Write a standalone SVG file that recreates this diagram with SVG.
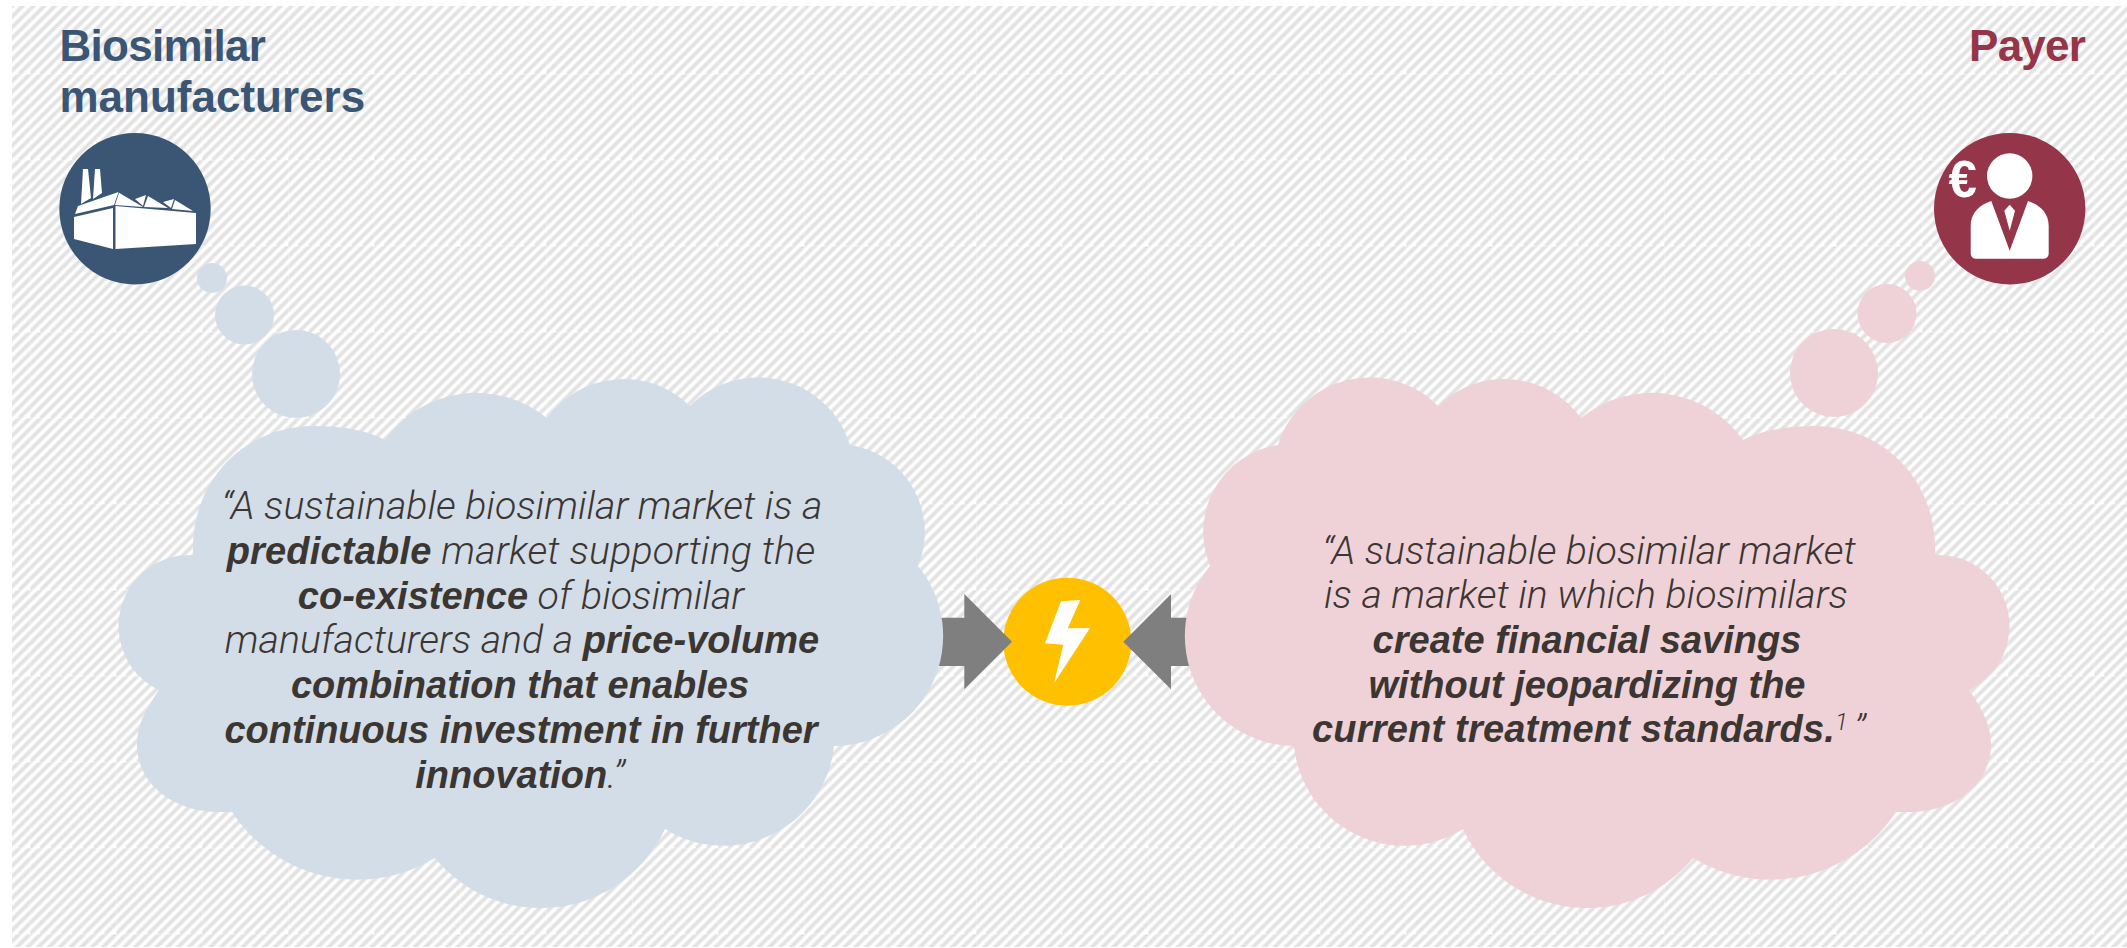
<svg xmlns="http://www.w3.org/2000/svg" xmlns:xlink="http://www.w3.org/1999/xlink" width="2127" height="948" viewBox="0 0 2127 948">
<style>
.title{font-family:"Liberation Sans",Arial,sans-serif;font-weight:700;font-size:44px}
.q{font-size:38px;fill:#3b3632;text-anchor:middle}
.l{font-family:Roboto,"Liberation Sans",sans-serif;font-weight:300;font-style:italic;font-size:39.3px}
.b{font-family:"Liberation Sans",Arial,sans-serif;font-weight:700;font-style:italic;font-size:38px}
.s{font-family:Roboto,"Liberation Sans",sans-serif;font-weight:300;font-style:italic;font-size:24px}
.blue{fill:#d3dde8}.pink{fill:#efd2d8}
.ico{fill:#fff}
.arrow{fill:#7f7f7f}
</style>
<defs>
<pattern id="hatch" patternUnits="userSpaceOnUse" x="30" y="74" width="86" height="86">
<rect width="86" height="86" fill="#fff"/>
<g stroke="#f2f2f2" stroke-width="5.2"><path d="M-86 86L86 -86M-75.25 86L96.75 -86M-64.5 86L107.5 -86M-53.75 86L118.25 -86M-43 86L129 -86M-32.25 86L139.75 -86M-21.5 86L150.5 -86M-10.75 86L161.25 -86M0 86L172 -86M10.75 86L182.75 -86M21.5 86L193.5 -86M32.25 86L204.25 -86M43 86L215 -86M53.75 86L225.75 -86M64.5 86L236.5 -86M75.25 86L247.25 -86"/></g>
<g stroke="#e2e2e2" stroke-width="2.8"><path d="M-86 86L86 -86M-75.25 86L96.75 -86M-64.5 86L107.5 -86M-53.75 86L118.25 -86M-43 86L129 -86M-32.25 86L139.75 -86M-21.5 86L150.5 -86M-10.75 86L161.25 -86M0 86L172 -86M10.75 86L182.75 -86M21.5 86L193.5 -86M32.25 86L204.25 -86M43 86L215 -86M53.75 86L225.75 -86M64.5 86L236.5 -86M75.25 86L247.25 -86"/></g>
<path d="M0.5 0V86M0 0.5H86" stroke="#fff" stroke-opacity=".25" fill="none"/>
</pattern>
<path id="cloud" d="M193 555C190 480 245 426 314 426C345 426 368 431 385 440A112 112 0 0 1 547 418A95 95 0 0 1 690 406A96 96 0 0 1 850 445A88 88 0 0 1 918 566A110 110 0 0 1 834 746A111 111 0 0 1 665 829A137 137 0 0 1 435 858A150 150 0 0 1 232 812L218 812C175 812 137 785 137 745C137 725 145 710 159 690A71 71 0 0 1 193 555Z"/>
</defs>
<rect id="background" x="12" y="6" width="2115" height="941" fill="url(#hatch)"/>

<g id="conflict">
<circle cx="1067.3" cy="641.7" r="64" fill="#ffc000"/>
<polygon class="ico" points="1061,601.3 1080.3,600 1067.7,628.3 1090,628 1054,683.3 1063.3,644.7 1045,643.3"/>
</g>

<g id="connectors">
<polygon class="arrow" points="915,617.7 964.3,617.7 964.3,594 1012,641.7 964.3,689.3 964.3,666 915,666"/>
<polygon class="arrow" points="1215,617.7 1171,617.7 1171,594 1123.3,641.7 1171,689.3 1171,666 1215,666"/>
</g>

<g id="biosimilar-manufacturers">
<text class="title" x="59.5" y="61" fill="#3a5674" letter-spacing="-0.7">Biosimilar</text>
<text class="title" x="59.5" y="111.5" fill="#3a5674">manufacturers</text>
<circle cx="135" cy="208.7" r="75.7" fill="#3a5674"/>
<g class="ico">
<polygon points="115.5,206 196,213 196,244 115.5,249"/>
<polygon points="74,217 113,208 113,249 74,239"/>
<polygon points="75,214 78,206 118.5,192 114,205"/>
<polygon points="83,169 88,169 91,198 81,204"/>
<polygon points="95,169 100,169 102,193 93,199"/>
<polygon points="119,192.7 143,207 115,205"/>
<polygon points="135,199 146,195 143,206"/>
<polygon points="148,196 168,208 144,207"/>
<polygon points="163,202 174,199 171,208"/>
<polygon points="175,200 193,211 172,209"/>
</g>
<g class="blue"><circle cx="212" cy="278" r="15"/><circle cx="244.5" cy="315" r="29.5"/><circle cx="296" cy="374" r="44"/></g>
<use href="#cloud" class="blue"/>
<text class="q" y="519"><tspan class="l" x="522">“A sustainable biosimilar market is a</tspan></text>
<text class="q" y="564" letter-spacing="0.2"><tspan class="b" x="521">predictable</tspan><tspan class="l"> market supporting the</tspan></text>
<text class="q" y="608.5"><tspan class="b" x="521">co-existence</tspan><tspan class="l"> of biosimilar</tspan></text>
<text class="q" y="653"><tspan class="l" x="522">manufacturers and a </tspan><tspan class="b">price-volume</tspan></text>
<text class="q" y="698"><tspan class="b" x="520">combination that enables</tspan></text>
<text class="q" y="743"><tspan class="b" x="521">continuous investment in further</tspan></text>
<text class="q" y="787.5"><tspan class="b" x="520">innovation</tspan><tspan class="l">.”</tspan></text>
</g>

<g id="payer">
<text class="title" x="2085" y="61" text-anchor="end" fill="#943549" letter-spacing="-0.8">Payer</text>
<circle cx="2009.7" cy="208.7" r="75.7" fill="#943549"/>
<g class="ico">
<circle cx="2009.7" cy="176" r="22.7"/>
<path d="M1991.3 201L2009.7 250.7L2028 201C2040 205 2048.7 213 2048.7 226V253Q2048.7 258.7 2043 258.7H1976.4Q1970.7 258.7 1970.7 253V226C1970.7 213 1979 205 1991.3 201Z"/>
<polygon points="2009.7,204.7 2015,210.7 2009.7,230.7 2004.3,210.7" fill="#fff"/>
<text x="1948.5" y="197" font-family="Liberation Sans,Arial,sans-serif" font-weight="700" font-size="51" fill="#fff">€</text>
</g>
<g class="pink"><circle cx="1920" cy="276" r="15"/><circle cx="1887" cy="313.5" r="29.5"/><circle cx="1834" cy="373" r="44"/></g>
<use href="#cloud" class="pink" transform="matrix(-1 0 0 1 2128 0)"/>
<text class="q" y="563.5"><tspan class="l" x="1589">“A sustainable biosimilar market</tspan></text>
<text class="q" y="608"><tspan class="l" x="1586">is a market in which biosimilars</tspan></text>
<text class="q" y="653"><tspan class="b" x="1587">create financial savings</tspan></text>
<text class="q" y="697.5"><tspan class="b" x="1587">without jeopardizing the</tspan></text>
<text class="q" y="742" letter-spacing="0.2"><tspan class="b" x="1589">current treatment standards.</tspan><tspan class="s" dy="-12">1 </tspan><tspan class="l" dy="12">”</tspan></text>
</g>
</svg>
